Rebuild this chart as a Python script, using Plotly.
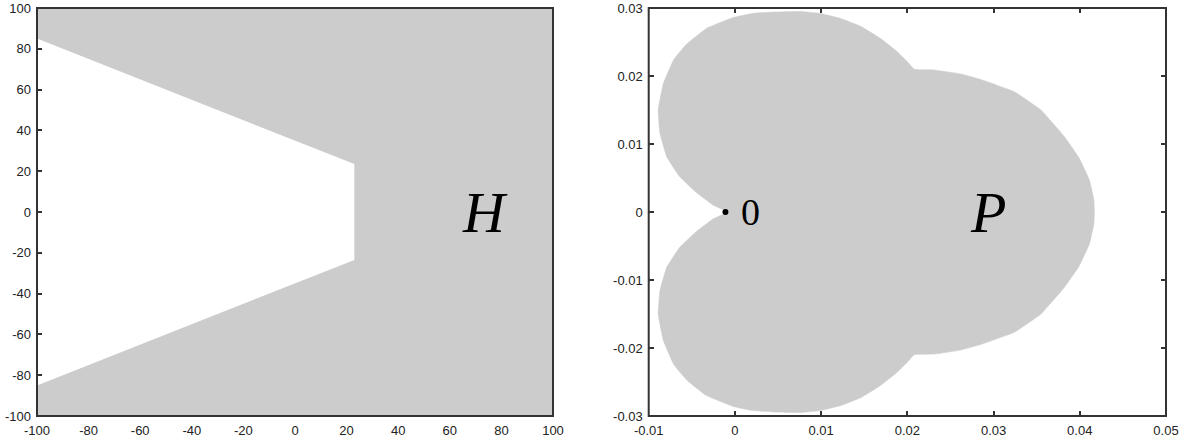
import plotly.graph_objects as go

# ---------------- data ----------------
# Left panel: region H (grey polygon vertices)
h_x = [-100, 100, 100, -100, -100, 23, 23, -100]
h_y = [100, 100, -100, -100, -85, -23.5, 23.5, 85]

# Right panel: region P boundary (counter-clockwise from rightmost point)
p_x = [0.0417, 0.04163, 0.04131, 0.04112, 0.0399, 0.0382, 0.0355, 0.0324,
       0.0285, 0.0262, 0.0231, 0.0208, 0.0200, 0.0188, 0.0169, 0.0146, 0.0122, 0.0099,
       0.0076, 0.0045, 0.0020, -0.0002, -0.0033, -0.0056, -0.0071, -0.0083, -0.0089, -0.0087,
       -0.0079, -0.0064, -0.0044, -0.0025, -0.0013, -0.0011,
       -0.0013, -0.0025, -0.0044, -0.0064, -0.0079, -0.0087, -0.0089, -0.0083, -0.0071, -0.0056,
       -0.0033, -0.0002, 0.0020, 0.0045, 0.0076, 0.0099, 0.0122, 0.0146, 0.0169, 0.0188,
       0.0200, 0.0208, 0.0231, 0.0262, 0.0285, 0.0324, 0.0355, 0.0382,
       0.0399, 0.04112, 0.04131, 0.04163, 0.0417]
p_y = [0.0, 0.0018, 0.0037, 0.0047, 0.0080, 0.0111, 0.0150, 0.0177,
       0.0195, 0.0203, 0.0209, 0.0210, 0.0221, 0.0236, 0.0255, 0.0273, 0.0285, 0.0292,
       0.0295, 0.0294, 0.0292, 0.0286, 0.0270, 0.0247, 0.0224, 0.0189, 0.0150, 0.0116,
       0.0081, 0.0052, 0.0028, 0.0010, 0.0003, 0.0,
       -0.0003, -0.0010, -0.0028, -0.0052, -0.0081, -0.0116, -0.0150, -0.0189, -0.0224, -0.0247,
       -0.0270, -0.0286, -0.0292, -0.0294, -0.0295, -0.0292, -0.0285, -0.0273, -0.0255, -0.0236,
       -0.0221, -0.0210, -0.0209, -0.0203, -0.0195, -0.0177, -0.0150, -0.0111,
       -0.0080, -0.0047, -0.0037, -0.0018, 0.0]

origin_x = [-0.0011]
origin_y = [0.0]

# tick labels
left_xticks = [-100, -80, -60, -40, -20, 0, 20, 40, 60, 80, 100]
left_xtext = ["-100", "-80", "-60", "-40", "-20", "0", "20", "40", "60", "80", "100"]
left_yticks = [-100, -80, -60, -40, -20, 0, 20, 40, 60, 80, 100]
left_ytext = ["-100", "-80", "-60", "-40", "-20", "0", "20", "40", "60", "80", "100"]
right_xticks = [-0.01, 0, 0.01, 0.02, 0.03, 0.04, 0.05]
right_xtext = ["-0.01", "0", "0.01", "0.02", "0.03", "0.04", "0.05"]
right_yticks = [-0.03, -0.02, -0.01, 0, 0.01, 0.02, 0.03]
right_ytext = ["-0.03", "-0.02", "-0.01", "0", "0.01", "0.02", "0.03"]

GREY = "#cccccc"
AX = "#333333"
TICKFONT = dict(family="Liberation Sans, Arial, sans-serif", size=13, color="#222222")

fig = go.Figure()

fig.add_trace(go.Scatter(x=h_x, y=h_y, fill="toself", fillcolor=GREY, mode="lines",
                         line=dict(width=0, color=GREY), hoverinfo="skip",
                         xaxis="x", yaxis="y", showlegend=False))

fig.add_trace(go.Scatter(x=p_x, y=p_y, fill="toself", fillcolor=GREY, mode="lines",
                         line=dict(width=0.5, color=GREY, shape="spline", smoothing=0.3),
                         hoverinfo="skip", xaxis="x2", yaxis="y2", showlegend=False))

fig.add_trace(go.Scatter(x=origin_x, y=origin_y, mode="markers",
                         marker=dict(size=6, color="black"), hoverinfo="skip",
                         xaxis="x2", yaxis="y2", showlegend=False))

W, H = 1186, 445
L1, R1 = 37 / W, 553 / W
L2, R2 = 648.7 / W, 1166 / W

common = dict(showgrid=False, zeroline=False, showline=False, ticks="inside",
              ticklen=5, tickwidth=1.5, tickcolor=AX, tickfont=TICKFONT,
              ticklabelstandoff=5, automargin=False)

fig.update_layout(
    width=W, height=H,
    margin=dict(l=0, r=0, t=8, b=29, autoexpand=False),
    paper_bgcolor="white", plot_bgcolor="white",
    xaxis=dict(domain=[L1, R1], range=[-100, 100], tickvals=left_xticks, ticktext=left_xtext,
               layer="below traces", anchor="y", **common),
    yaxis=dict(domain=[0, 1], range=[-100, 100], tickvals=left_yticks, ticktext=left_ytext,
               layer="below traces", anchor="x", **common),
    xaxis2=dict(domain=[L2, R2], range=[-0.01, 0.05], tickvals=right_xticks, ticktext=right_xtext,
                anchor="y2", mirror="ticks", **common),
    yaxis2=dict(domain=[0, 1], range=[-0.03, 0.03], tickvals=right_yticks, ticktext=right_ytext,
                anchor="x2", mirror="ticks", **common),
    shapes=[
        dict(type="rect", xref="x domain", yref="y domain", x0=0, x1=1, y0=0, y1=1,
             line=dict(color=AX, width=2), layer="above"),
        dict(type="rect", xref="x2 domain", yref="y2 domain", x0=0, x1=1, y0=0, y1=1,
             line=dict(color=AX, width=2), layer="above"),
    ],
    annotations=[
        dict(x=73.6, y=0, xref="x", yref="y", text="<i>H</i>", showarrow=False,
             font=dict(family="Liberation Serif, Times New Roman, serif", size=58, color="black")),
        dict(x=0.0294, y=0, xref="x2", yref="y2", text="<i>P</i>", showarrow=False,
             font=dict(family="Liberation Serif, Times New Roman, serif", size=58, color="black")),
        dict(x=0.0018, y=0, xref="x2", yref="y2", text="0", showarrow=False,
             font=dict(family="Liberation Serif, Times New Roman, serif", size=38, color="black")),
    ],
)

fig.write_html("out.html", config={"displayModeBar": False},
               post_script="document.body.style.margin='0';document.body.style.overflow='hidden';")
